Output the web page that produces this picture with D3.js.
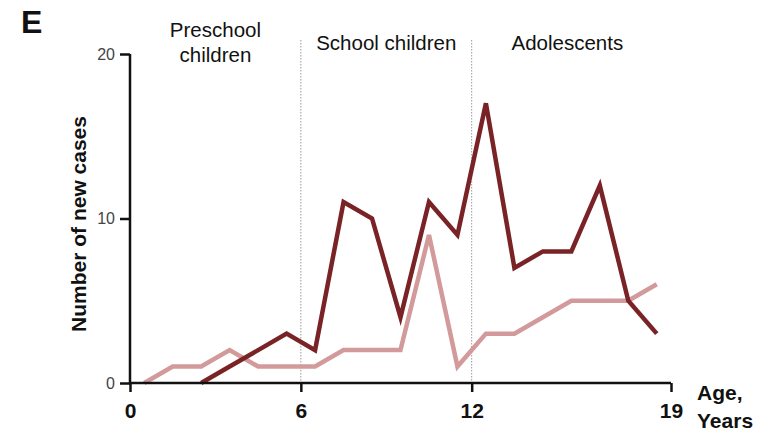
<!DOCTYPE html>
<html>
<head>
<meta charset="utf-8">
<script src="https://cdn.jsdelivr.net/npm/d3@7"></script>
<style>
  html, body { margin: 0; padding: 0; background: #fff; }
  svg { display: block; font-family: "Liberation Sans", Arial, sans-serif; }
</style>
</head>
<body>
<svg id="chart" width="757" height="432"></svg>
<script>
// Age midpoints (years) and new case counts per one-year age band
const ages = [0.5, 1.5, 2.5, 3.5, 4.5, 5.5, 6.5, 7.5, 8.5, 9.5, 10.5, 11.5, 12.5, 13.5, 14.5, 15.5, 16.5, 17.5, 18.5];
const lightCases = [0, 1, 1, 2, 1, 1, 1, 2, 2, 2, 9, 1, 3, 3, 4, 5, 5, 5, 6];
const darkCases = [null, null, 0, 1, 2, 3, 2, 11, 10, 4, 11, 9, 17, 7, 8, 8, 12, 5, 3];

const xTicks = [0, 6, 12, 19];
const yTicks = [0, 10, 20];
const groupBounds = [6, 12];
const groupLabels = [
  { lines: ["Preschool", "children"], from: 0, to: 6, shift: 0 },
  { lines: ["School children"], from: 6, to: 12, shift: 0 },
  { lines: ["Adolescents"], from: 12, to: 19, shift: -4 }
];

const svg = d3.select("#chart");
const x = d3.scaleLinear().domain([0, 19]).range([130, 671]);
const y = d3.scaleLinear().domain([0, 20]).range([383, 54]);

// Age-group separators
svg.selectAll("line.sep").data(groupBounds).enter().append("line")
  .attr("class", "sep")
  .attr("x1", d => x(d)).attr("x2", d => x(d))
  .attr("y1", 40).attr("y2", y(0))
  .attr("stroke", "#999").attr("stroke-width", 1)
  .attr("stroke-dasharray", "1.5,1.5");

// Group labels
groupLabels.forEach(g => {
  const cx = (x(g.from) + x(g.to)) / 2 + g.shift;
  const t = svg.append("text")
    .attr("text-anchor", "middle")
    .attr("font-size", 20.5)
    .attr("fill", "#111");
  if (g.lines.length === 2) {
    t.append("tspan").attr("x", cx).attr("y", 37).text(g.lines[0]);
    t.append("tspan").attr("x", cx).attr("y", 62).text(g.lines[1]);
  } else {
    t.append("tspan").attr("x", cx).attr("y", 50).text(g.lines[0]);
  }
});

// Lines
const line = d3.line()
  .defined(d => d[1] !== null)
  .x(d => x(d[0])).y(d => y(d[1]));

svg.append("path")
  .datum(ages.map((a, i) => [a, lightCases[i]]))
  .attr("d", line)
  .attr("fill", "none")
  .attr("stroke", "#d29a9b")
  .attr("stroke-width", 4.5)
  .attr("stroke-linejoin", "miter");

svg.append("path")
  .datum(ages.map((a, i) => [a, darkCases[i]]))
  .attr("d", line)
  .attr("fill", "none")
  .attr("stroke", "#7a2326")
  .attr("stroke-width", 4.5)
  .attr("stroke-linejoin", "miter");

// Y axis
const yAxis = svg.append("g")
  .attr("transform", `translate(${x(0)},0)`)
  .call(d3.axisLeft(y).tickValues(yTicks).tickSize(10).tickPadding(5).tickFormat(d3.format("d")));
yAxis.select(".domain").attr("stroke", "#111").attr("stroke-width", 2.5)
  .attr("d", `M0,${y(20)}V${y(0)}`);
yAxis.selectAll(".tick line").attr("stroke", "#111").attr("stroke-width", 2.5);
yAxis.selectAll(".tick text").attr("font-size", 16).attr("fill", "#444")
  .attr("font-family", "Liberation Sans, Arial, sans-serif");

// X axis
const xAxis = svg.append("g")
  .attr("transform", `translate(0,${y(0)})`)
  .call(d3.axisBottom(x).tickValues(xTicks).tickSize(9).tickPadding(8).tickFormat(d3.format("d")));
xAxis.select(".domain").attr("stroke", "#111").attr("stroke-width", 2.5)
  .attr("d", `M${x(0)},0H${x(19)}`);
xAxis.selectAll(".tick line").attr("stroke", "#111").attr("stroke-width", 2.5);
xAxis.selectAll(".tick text").attr("font-size", 21).attr("font-weight", "bold").attr("fill", "#111")
  .attr("font-family", "Liberation Sans, Arial, sans-serif")
  .attr("dy", null).attr("y", 35);

// Axis titles
svg.append("text")
  .attr("x", 697).attr("y", 400)
  .attr("font-size", 21).attr("font-weight", "bold").attr("fill", "#111")
  .text("Age,");
svg.append("text")
  .attr("x", 697).attr("y", 428)
  .attr("font-size", 21).attr("font-weight", "bold").attr("fill", "#111")
  .text("Years");

svg.append("text")
  .attr("transform", "translate(86,224) rotate(-90)")
  .attr("text-anchor", "middle")
  .attr("font-size", 21).attr("font-weight", "bold").attr("fill", "#111")
  .text("Number of new cases");

// Panel letter
svg.append("text")
  .attr("x", 21).attr("y", 33)
  .attr("font-size", 32).attr("font-weight", "bold").attr("fill", "#111")
  .text("E");
</script>
</body>
</html>
